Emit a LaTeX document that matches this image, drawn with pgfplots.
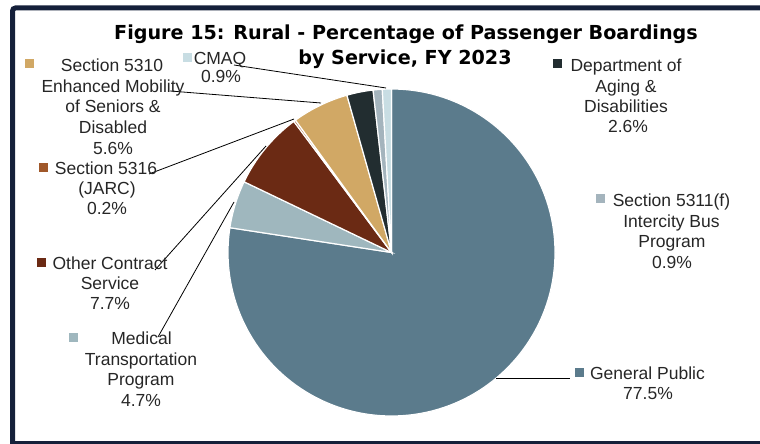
\documentclass[border=0pt]{standalone}
\usepackage{pgfplots}
\pgfplotsset{compat=1.18}
\usepackage{fontspec}
\setmainfont{Liberation Sans}
\newfontfamily\titlefont{DejaVu Sans}

\definecolor{cGP}{RGB}{91,123,140}
\definecolor{cMed}{RGB}{159,183,190}
\definecolor{cOther}{RGB}{107,42,20}
\definecolor{cJarc}{RGB}{160,88,42}
\definecolor{cSen}{RGB}{209,168,101}
\definecolor{cAging}{RGB}{34,45,48}
\definecolor{cInter}{RGB}{164,180,189}
\definecolor{cCmaq}{RGB}{200,221,227}
\definecolor{frame}{RGB}{21,32,58}
\definecolor{txt}{RGB}{38,38,38}

% cumulative percentages -> angle, clockwise from 12 o'clock (total 100.1)
\newcommand{\ang}[1]{90-3.5964*(#1)}
\newcommand{\slice}[3]{%
  \fill[#1, draw=white, line width=1.2pt] (axis cs:391.5,191.5) -- ++({\ang{#2}}:163.5pt)
    arc[start angle={\ang{#2}}, end angle={\ang{#3}}, radius=163.5pt] -- cycle;}
\newcommand{\key}[3]{\fill[#1] (axis cs:#2,#3) ++(-4.5pt,-4.5pt) rectangle ++(9pt,9pt);}
\newcommand{\lbl}[3]{\node[lab] at (axis cs:#1,#2) {#3};}
\newcommand{\leader}[4]{\draw[black, line width=0.8pt] (axis cs:#1,#2) -- (axis cs:#3,#4);}

\begin{document}
\begin{tikzpicture}[lab/.style={font=\fontsize{17.5}{20}\selectfont, text=txt, anchor=base, inner sep=0pt},
  ttl/.style={anchor=base, inner sep=0pt, font=\titlefont\bfseries\fontsize{19.3}{23}\selectfont}]
\begin{axis}[
  scale only axis, width=760pt, height=444pt,
  xmin=0, xmax=760, ymin=0, ymax=444,
  enlargelimits=false, hide axis]

% frame (right side lies outside the picture)
\draw[frame, line width=5pt, rounded corners=3pt] (axis cs:760,436) -- (axis cs:12.5,436) -- (axis cs:12.5,2);
\fill[frame] (axis cs:10,0) rectangle (axis cs:760,3);

% pie
\slice{cGP}{0}{77.5}
\slice{cMed}{77.5}{82.2}
\slice{cOther}{82.2}{89.9}
\slice{cJarc}{89.9}{90.1}
\slice{cSen}{90.1}{95.7}
\slice{cAging}{95.7}{98.3}
\slice{cInter}{98.3}{99.2}
\slice{cCmaq}{99.2}{100.1}

% leader lines
\leader{496}{66}{570}{66}
\leader{158}{107}{234}{242}
\leader{155}{174}{266}{298}
\leader{149}{270}{294}{325}
\leader{170}{353}{321}{341}
\leader{234}{379}{386}{356}

% title
\node[ttl] at (axis cs:406,404) {\scalebox{0.992}[1]{Figure 15: Rural - Percentage of Passenger Boardings}};
\node[ttl] at (axis cs:405,379) {\scalebox{0.992}[1]{by Service, FY 2023}};

% labels
\key{cSen}{29.5}{380}
\lbl{112}{372}{Section 5310}
\lbl{113}{351}{Enhanced Mobility}
\lbl{113}{331}{of Seniors \&}
\lbl{113}{310}{Disabled}
\lbl{113}{289}{5.6\%}

\key{cCmaq}{187}{386}
\lbl{220}{379}{CMAQ}
\lbl{221}{361}{0.9\%}

\key{cAging}{557.5}{380}
\lbl{626}{372}{Department of}
\lbl{626}{351.5}{Aging \&}
\lbl{626}{331.3}{Disabilities}
\lbl{628}{311}{2.6\%}

\key{cJarc}{43}{276}
\lbl{106}{269}{Section 5316}
\lbl{107}{249}{(JARC)}
\lbl{107}{229}{0.2\%}

\key{cOther}{41.5}{181}
\lbl{110}{174}{Other Contract}
\lbl{110}{154}{Service}
\lbl{110}{134}{7.7\%}

\key{cMed}{73}{106.5}
\lbl{141.5}{99}{Medical}
\lbl{141}{78}{Transportation}
\lbl{141}{58.5}{Program}
\lbl{141}{37.5}{4.7\%}

\key{cInter}{600}{245}
\lbl{671.5}{237}{Section 5311(f)}
\lbl{671.5}{216}{Intercity Bus}
\lbl{672}{196}{Program}
\lbl{672}{175}{0.9\%}

\key{cGP}{579.5}{71}
\lbl{647.5}{64}{General Public}
\lbl{648}{44}{77.5\%}
\end{axis}
\pgfresetboundingbox
\path[use as bounding box] (current axis.south west) rectangle (current axis.north east);
\end{tikzpicture}
\end{document}
